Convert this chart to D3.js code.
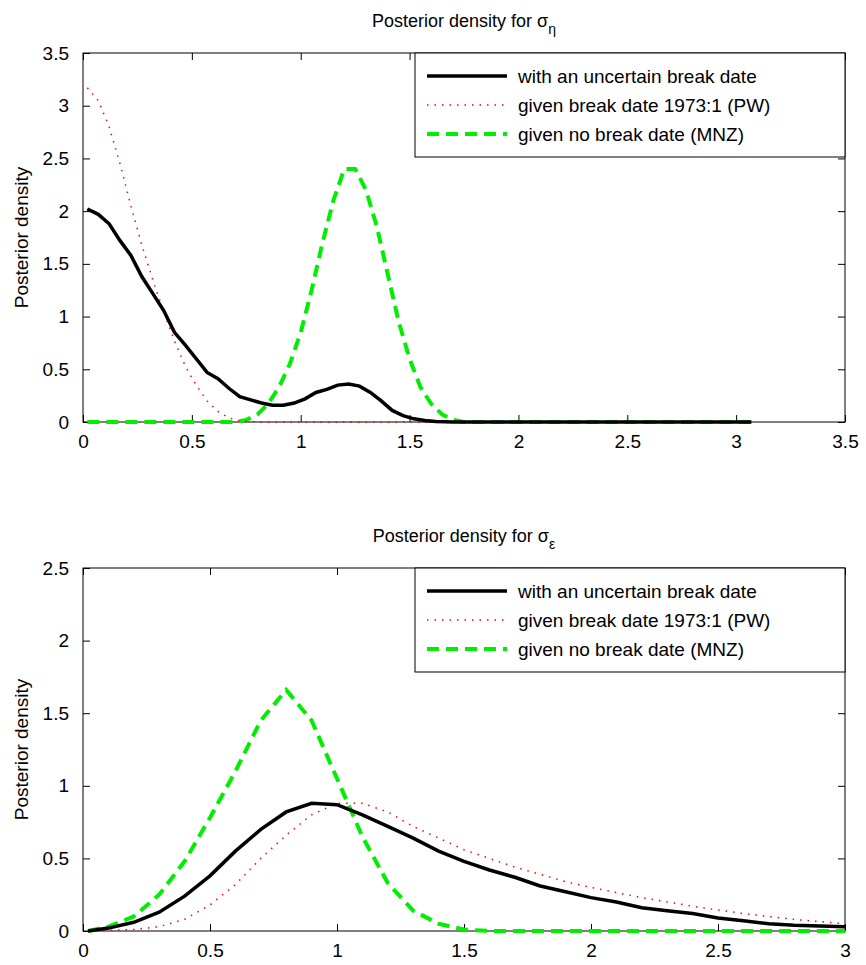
<!DOCTYPE html>
<html><head><meta charset="utf-8">
<script src="https://cdn.jsdelivr.net/npm/d3@7"></script>
<style>body{margin:0;background:#fff}text{font-family:"Liberation Sans",Arial,sans-serif}</style>
</head><body>
<script>
const seriesNames = ["with an uncertain break date", "given break date 1973:1 (PW)", "given no break date (MNZ)"];

const topBlack = [[0.02,2.02],[0.07,1.97],[0.12,1.88],[0.17,1.72],[0.22,1.58],[0.27,1.38],[0.32,1.22],[0.37,1.06],[0.42,0.85],[0.47,0.73],[0.52,0.6],[0.57,0.47],[0.62,0.41],[0.67,0.32],[0.72,0.24],[0.77,0.21],[0.82,0.18],[0.87,0.16],[0.92,0.16],[0.97,0.18],[1.02,0.22],[1.07,0.28],[1.12,0.31],[1.17,0.35],[1.22,0.36],[1.27,0.34],[1.32,0.28],[1.37,0.2],[1.42,0.11],[1.47,0.06],[1.52,0.03],[1.57,0.015],[1.62,0.005],[1.7,0],[3.07,0]];
const topRed = [[0.02,3.17],[0.07,3.05],[0.12,2.8],[0.17,2.45],[0.22,2.05],[0.27,1.68],[0.32,1.35],[0.37,1.05],[0.42,0.77],[0.47,0.53],[0.52,0.35],[0.57,0.2],[0.62,0.1],[0.67,0.04],[0.72,0.01],[0.8,0],[3.07,0]];
const topGreen = [[0.02,0],[0.7,0],[0.75,0.02],[0.8,0.07],[0.85,0.17],[0.9,0.33],[0.95,0.55],[1.0,0.85],[1.05,1.25],[1.1,1.7],[1.15,2.1],[1.2,2.4],[1.25,2.4],[1.3,2.2],[1.35,1.85],[1.4,1.4],[1.45,0.95],[1.5,0.6],[1.55,0.33],[1.6,0.17],[1.65,0.07],[1.7,0.02],[1.75,0],[3.07,0]];

const botBlack = [[0.02,0],[0.1,0.02],[0.2,0.06],[0.3,0.13],[0.4,0.24],[0.5,0.38],[0.6,0.55],[0.7,0.7],[0.8,0.82],[0.9,0.88],[1.0,0.87],[1.1,0.8],[1.2,0.72],[1.3,0.64],[1.4,0.55],[1.5,0.48],[1.6,0.42],[1.7,0.37],[1.8,0.31],[1.9,0.27],[2.0,0.23],[2.1,0.2],[2.2,0.16],[2.3,0.14],[2.4,0.12],[2.5,0.09],[2.6,0.07],[2.7,0.05],[2.8,0.04],[2.9,0.035],[3.0,0.03]];
const botRed = [[0.02,0],[0.2,0.01],[0.3,0.03],[0.4,0.08],[0.5,0.18],[0.6,0.32],[0.7,0.5],[0.8,0.66],[0.9,0.8],[1.0,0.88],[1.1,0.88],[1.2,0.82],[1.3,0.72],[1.4,0.64],[1.5,0.56],[1.6,0.5],[1.7,0.44],[1.8,0.39],[1.9,0.34],[2.0,0.3],[2.2,0.23],[2.4,0.17],[2.6,0.12],[2.8,0.08],[3.0,0.05]];
const botGreen = [[0.02,0],[0.1,0.03],[0.2,0.1],[0.3,0.25],[0.4,0.48],[0.5,0.78],[0.6,1.1],[0.7,1.45],[0.8,1.66],[0.9,1.45],[1.0,1.05],[1.1,0.65],[1.2,0.33],[1.3,0.14],[1.4,0.05],[1.5,0.01],[1.6,0],[3.0,0]];

const topXTicks = [0,0.5,1,1.5,2,2.5,3,3.5], topYTicks = [0,0.5,1,1.5,2,2.5,3,3.5];
const botXTicks = [0,0.5,1,1.5,2,2.5,3], botYTicks = [0,0.5,1,1.5,2,2.5];

const svg = d3.select('body').append('svg').attr('width', 866).attr('height', 965);
const styles = [
  {stroke:'#000', w:3.5, dash:null},
  {stroke:'#ff0000', w:1.5, dash:'1.5,6'},
  {stroke:'#00ee00', w:4, dash:'12,7'}
];

function panel(top, bottom, xMax, yMax, xTicks, yTicks, series, sub) {
  const left = 83, right = 845;
  const x = d3.scaleLinear().domain([0, xMax]).range([left, right]);
  const y = d3.scaleLinear().domain([0, yMax]).range([bottom, top]);
  const g = svg.append('g');
  const fmt = d => String(d);
  g.append('g').attr('transform', `translate(0,${bottom})`)
    .call(d3.axisBottom(x).tickValues(xTicks).tickFormat(fmt).tickSizeInner(-7).tickSizeOuter(0).tickPadding(13));
  g.append('g').attr('transform', `translate(0,${top})`)
    .call(d3.axisTop(x).tickValues(xTicks).tickFormat('').tickSizeInner(-7).tickSizeOuter(0));
  g.append('g').attr('transform', `translate(${left},0)`)
    .call(d3.axisLeft(y).tickValues(yTicks).tickFormat(fmt).tickSizeInner(-7).tickSizeOuter(0).tickPadding(14));
  g.append('g').attr('transform', `translate(${right},0)`)
    .call(d3.axisRight(y).tickValues(yTicks).tickFormat('').tickSizeInner(-7).tickSizeOuter(0));
  g.selectAll('.tick text').attr('font-size', 19).attr('fill', '#000').attr('font-family', '"Liberation Sans",Arial,sans-serif');
  g.selectAll('.domain').remove();
  g.append('rect').attr('x', left).attr('y', top).attr('width', right-left).attr('height', bottom-top)
    .attr('fill', 'none').attr('stroke', '#000');
  const line = d3.line().x(d => x(d[0])).y(d => y(d[1]));
  [2,1,0].forEach(i => {
    g.append('path').datum(series[i]).attr('d', line).attr('fill','none')
      .attr('stroke', styles[i].stroke).attr('stroke-width', styles[i].w)
      .attr('stroke-dasharray', styles[i].dash);
  });
  const t = g.append('text').attr('x', 464).attr('y', top - 26).attr('text-anchor','middle').attr('font-size', 18);
  t.append('tspan').text('Posterior density for σ');
  t.append('tspan').attr('dy', 7).attr('font-size', 14).text(sub);
  g.append('text').attr('transform', `translate(28,${(top+bottom)/2}) rotate(-90)`)
    .attr('text-anchor','middle').attr('font-size', 19).text('Posterior density');
  const lg = g.append('g').attr('transform', `translate(415,${top})`);
  lg.append('rect').attr('width', 430).attr('height', 104).attr('fill','#fff').attr('stroke','#000');
  seriesNames.forEach((n, i) => {
    const yy = 23 + i * 29;
    lg.append('line').attr('x1', 12).attr('x2', 92).attr('y1', yy).attr('y2', yy)
      .attr('stroke', styles[i].stroke).attr('stroke-width', styles[i].w).attr('stroke-dasharray', styles[i].dash);
    lg.append('text').attr('x', 103).attr('y', yy + 7).attr('font-size', 19).text(n);
  });
}

panel(53, 422, 3.5, 3.5, topXTicks, topYTicks, [topBlack, topRed, topGreen], 'η');
panel(568, 931, 3, 2.5, botXTicks, botYTicks, [botBlack, botRed, botGreen], 'ε');
</script>
</body></html>
